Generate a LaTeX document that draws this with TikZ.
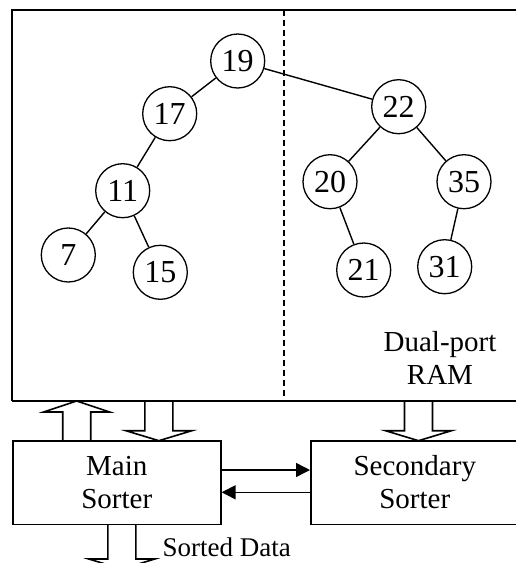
\documentclass[tikz,border=0pt]{standalone}
\usepackage{fontspec}
\setmainfont{Liberation Serif}
\usetikzlibrary{arrows.meta}
\newcommand{\bdown}[3]{\draw[blk] (#1-14,#3) -- (#1-14,#2-10) -- (#1-33,#2-10) -- (#1,#2) -- (#1+33,#2-10) -- (#1+14,#2-10) -- (#1+14,#3);}
\newcommand{\bup}[3]{\draw[blk] (#1-14,#3) -- (#1-14,#2+11) -- (#1-33,#2+11) -- (#1,#2) -- (#1+33,#2+11) -- (#1+14,#2+11) -- (#1+14,#3);}
\begin{document}
\begin{tikzpicture}[x=1pt,y=-1pt,
  box/.style={draw,line width=1.6pt,minimum width=208pt,minimum height=83.6pt,inner sep=0pt,align=center,font=\fontsize{29}{33}\selectfont},
  num/.style={draw,circle,line width=1.3pt,minimum size=54pt,inner sep=0pt,font=\fontsize{32}{32}\selectfont},
  edge/.style={line width=1.4pt},
  blk/.style={line width=1.6pt},
  thin/.style={line width=1.5pt,-{Triangle[length=14pt,width=14pt]}}]
\useasboundingbox (0,0) rectangle (516,563);
% RAM box
\draw[line width=1.6pt] (12,400.7) -- (12,10) -- (530,10);
\draw[line width=1.6pt] (12,400.7) -- (530,400.7);
\draw[line width=1.4pt,dash pattern=on 6pt off 4pt] (284,10) -- (284,400.7);
% tree
\node[num] (n19) at (237.7,61) {19};
\node[num] (n17) at (169.7,113.7) {17};
\node[num] (n11) at (122.7,190.7) {11};
\node[num] (n7) at (68.3,255) {7};
\node[num] (n15) at (160.3,272.3) {15};
\node[num] (n22) at (398.7,106.7) {22};
\node[num] (n20) at (330,181.7) {20};
\node[num] (n35) at (464,181.7) {35};
\node[num] (n21) at (363.7,270) {21};
\node[num] (n31) at (444.7,266.7) {31};
\draw[edge] (n19) -- (n17);
\draw[edge] (n17) -- (n11);
\draw[edge] (n11) -- (n7);
\draw[edge] (n11) -- (n15);
\draw[edge] (n19) -- (n22);
\draw[edge] (n22) -- (n20);
\draw[edge] (n22) -- (n35);
\draw[edge] (n20) -- (n21);
\draw[edge] (n35) -- (n31);
\node[align=center,font=\fontsize{29}{32.4}\selectfont] (ram) at (440,358) {Dual-port\\RAM};
% sorters
\node[box] (main) at (116.8,482.5) {Main\\Sorter};
\node[box] (sec) at (414.8,482.5) {Secondary\\Sorter};
\draw[thin] (main.east |- 0,470) -- (sec.west |- 0,470);
\draw[thin] (sec.west |- 0,492.3) -- (main.east |- 0,492.3);
% block arrows
\bup{76.7}{401}{440.7}
\bdown{158.9}{440.7}{400.7}
\bdown{418.5}{440.7}{400.7}
\bdown{121.8}{569}{524.3}
\node[anchor=west,font=\fontsize{27}{27}\selectfont] (sd) at (159,547) {Sorted Data};
\end{tikzpicture}
\end{document}
